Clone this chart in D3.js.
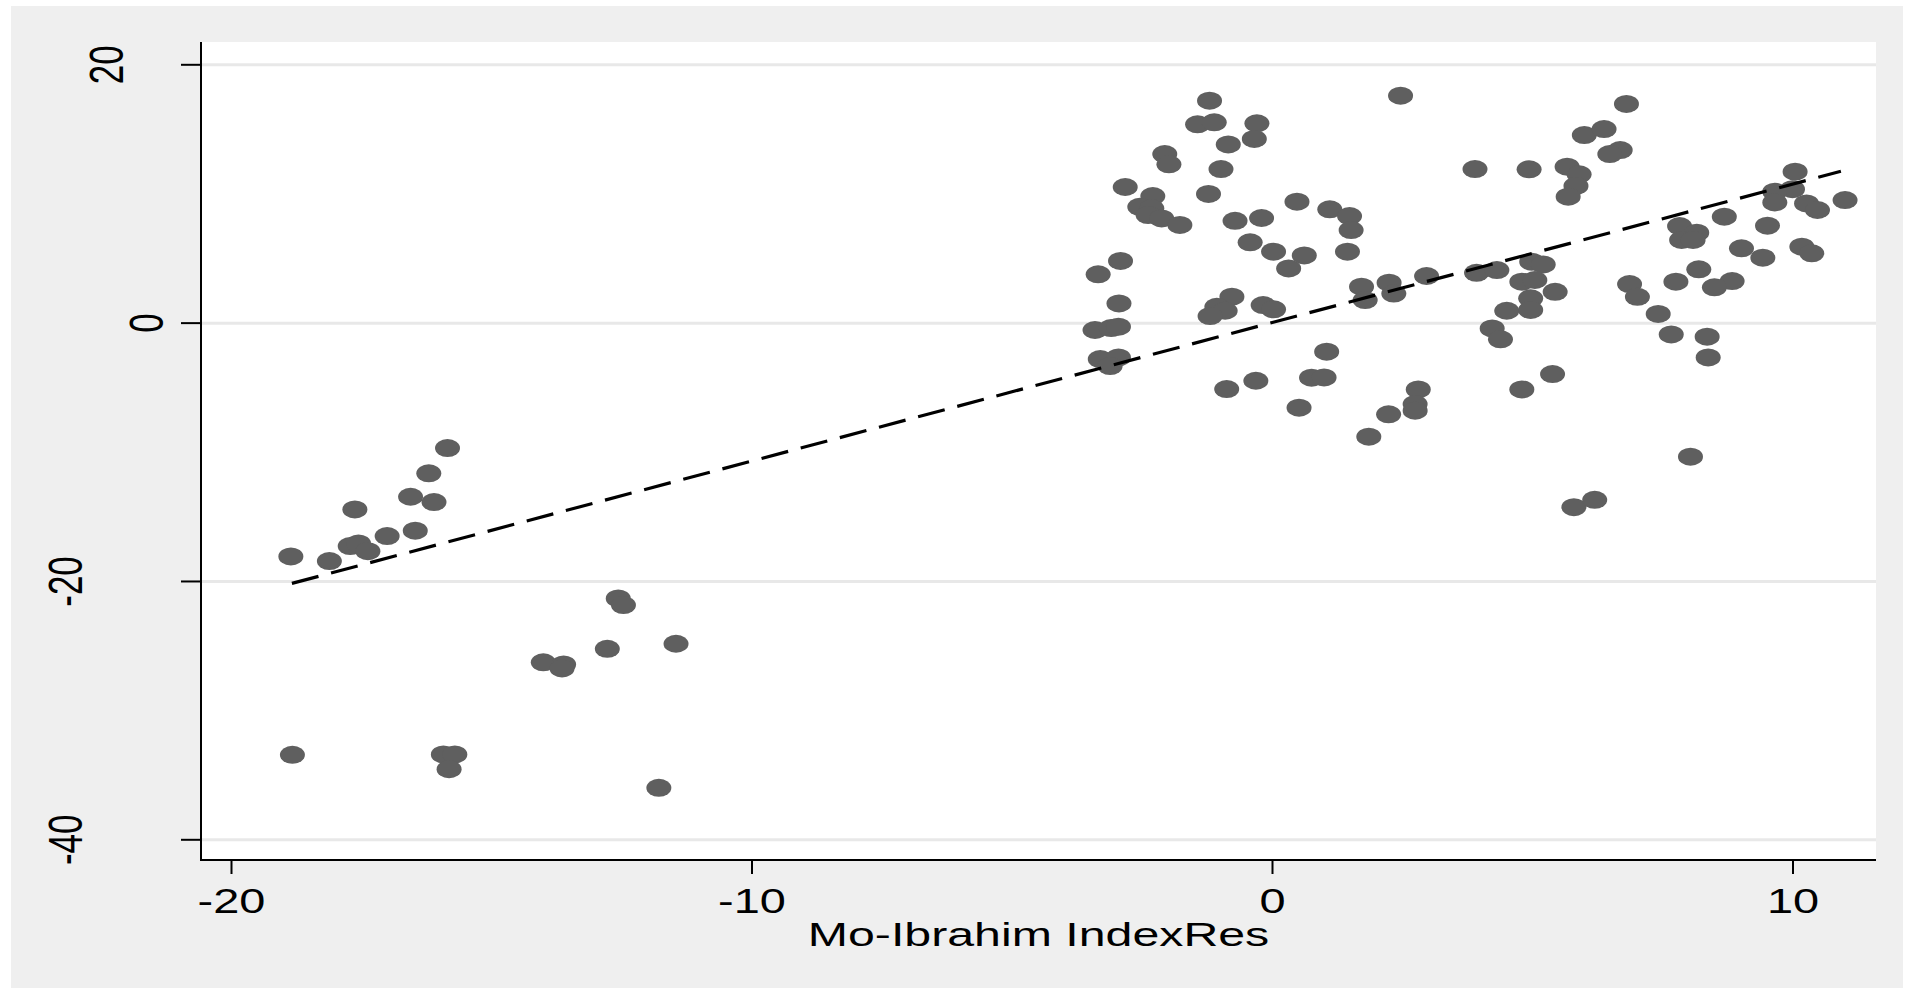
<!DOCTYPE html>
<html>
<head>
<meta charset="utf-8">
<script src="https://cdn.jsdelivr.net/npm/d3@7"></script>
<style>
  body { margin: 0; background: #fff; }
  svg { display: block; }
  text { font-family: "Liberation Sans", Arial, sans-serif; fill: #000; }
</style>
</head>
<body>
<svg id="chart" width="1916" height="989"></svg>
<script>
// residual of the Mo-Ibrahim index (x) vs residual of the outcome (y)
const moIbrahimRes = [
  -18.85, -18.11, -17.62, -17.71, -17.55, -17.37, -17.00, -16.55, -16.46, -16.20, -16.10, -15.84,
  -18.82, -15.92, -15.70, -15.81, -14.00, -13.61, -13.64, -12.77, -12.56, -12.46, -11.45, -11.78,
  -1.20, -1.43, -1.11, -0.29, -0.34, -0.84, -2.06, -1.98, -0.98, -2.82, -1.22, -2.29, -2.54, -2.31,
  -2.38, -2.12, -1.77, -0.71, -0.20, 0.48, -0.42, 0.03, 0.32, 0.62, -2.91, -3.34, -2.94, -3.40,
  -3.09, -2.95, -3.30, -2.95, -3.11, -0.77, -1.06, -0.90, -1.19, -0.17, 0.03, -0.87, -0.31, 0.52,
  2.47, 3.90, 1.11, 1.49, 1.52, 1.45, 1.72, 2.25, 1.79, 2.34, 2.97, 1.05, 0.76, 1.00, 2.81, 2.75,
  2.75, 2.24, 1.86,
  3.93, 4.32, 4.99, 5.21, 4.80, 5.05, 5.44, 4.97, 4.51, 4.97, 4.23, 4.39, 4.80, 5.39, 4.94, 5.67,
  5.90, 5.84, 5.69, 6.00, 6.38, 6.81, 6.69, 6.49, 10.05, 10.00, 9.66, 9.66, 10.27, 10.48, 11.01,
  8.69, 9.52, 7.83, 8.16, 7.87, 8.09, 9.02, 9.43, 10.18, 10.37, 8.20, 7.76, 8.84, 8.50, 6.87, 7.02,
  7.42, 7.67, 8.36, 8.38, 8.04, 5.80, 6.20
];
const outcomeRes = [
  -18.10, -18.46, -14.46, -17.30, -17.09, -17.69, -16.52, -13.48, -16.11, -11.67, -13.89, -9.71,
  -33.46, -33.43, -33.43, -34.57, -26.30, -26.46, -26.77, -25.25, -21.35, -21.87, -24.86, -36.01,
  17.18, 15.35, 15.51, 15.43, 14.22, 13.80, 13.05, 12.26, 11.89, 10.50, 9.96, 9.80, 8.97, 8.85,
  8.33, 8.07, 7.56, 7.88, 8.10, 9.36, 6.22, 5.49, 4.20, 5.20, 4.78, 3.74, 1.49, -0.57,
  -0.42, -0.31, -2.82, -2.69, -3.36, 2.01, 1.23, 0.92, 0.51, 1.36, 1.03, -5.14, -4.50, -6.58,
  17.57, 11.89, 8.77, 8.25, 7.17, 5.49, 2.78, 3.09, 1.75, 2.25, 3.61, -2.25, -4.26, -4.24, -5.17, -6.30,
  -6.82, -7.10, -8.83,
  3.86, 4.07, 4.72, 4.51, 3.17, 3.30, 2.39, 1.88, 0.92, 0.98, -0.45, -1.29, -5.17, -3.98, 11.87, 12.07,
  11.48, 10.58, 9.75, 14.52, 14.99, 16.93, 13.36, 13.05, 11.69, 10.33, 10.14, 9.31, 9.23, 8.72, 9.49,
  8.20, 7.51, 7.48, 6.96, 6.40, 6.40, 5.75, 5.03, 5.88, 5.37, 4.13, 3.17, 3.22, 2.73, 2.99, 2.00,
  0.67, -0.91, -1.09, -2.69, -10.38, -14.29, -13.72
];
// fitted line end points
const fitX = [-18.83, 10.93];
const fitY = [-20.19, 11.72];
const xTicks = [-20, -10, 0, 10];
const yTicks = [-40, -20, 0, 20];
const xTitle = "Mo-Ibrahim IndexRes";

const svg = d3.select("svg#chart");
const plot = { left: 201, right: 1876, top: 42, bottom: 860 };
const stretch = 1.38; // the picture is wider than tall, glyphs are stretched

// outer grey frame and white plot region
svg.append("rect")
  .attr("x", 11).attr("y", 6).attr("width", 1892).attr("height", 982)
  .style("fill", "#efefef");
svg.append("rect")
  .attr("x", plot.left).attr("y", plot.top)
  .attr("width", plot.right - plot.left).attr("height", plot.bottom - plot.top)
  .style("fill", "#fff");

const xScale = d3.scaleLinear().domain([-20, 10]).range([231, 1792.5]);
const yScale = d3.scaleLinear().domain([-40, 20]).range([839.3, 64.3]);

// grid lines
svg.append("g")
  .attr("class", "grid")
  .attr("transform", `translate(${plot.left}, 0)`)
  .call(d3.axisLeft(yScale).tickValues(yTicks).tickSize(-(plot.right - plot.left)).tickFormat(""))
  .call((g) => {
    g.select(".domain").remove();
    g.selectAll(".tick line").attr("stroke", "#e8e8e8").attr("stroke-width", 3);
  });

// points
const points = d3.zip(moIbrahimRes, outcomeRes);
svg.append("g")
  .selectAll("ellipse")
  .data(points)
  .join("ellipse")
  .attr("cx", (d) => xScale(d[0]))
  .attr("cy", (d) => yScale(d[1]))
  .attr("rx", 12.5)
  .attr("ry", 9)
  .style("fill", "#5f5f5f");

// fitted line
const line = d3.line().x((d) => xScale(d[0])).y((d) => yScale(d[1]));
svg.append("path")
  .datum(d3.zip(fitX, fitY))
  .attr("d", line)
  .attr("fill", "none")
  .attr("stroke", "#000")
  .attr("stroke-width", 3.2)
  .attr("stroke-dasharray", "27.5 13");

// y axis
svg.append("g")
  .attr("class", "y axis")
  .attr("transform", `translate(${plot.left}, 0)`)
  .call(d3.axisLeft(yScale).tickValues(yTicks).tickSize(20).tickFormat((d) => String(d)))
  .call((g) => {
    g.select(".domain").remove();
    g.selectAll(".tick line").attr("stroke", "#000").attr("stroke-width", 2);
    g.selectAll(".tick text")
      .attr("x", null)
      .attr("dy", null)
      .attr("text-anchor", "middle")
      .attr("font-size", 35)
      .attr("transform", (d) => {
        const len = String(d).length;
        const bx = -38 - 40.5 * (len - 1);
        return `translate(${bx}, 0) scale(${stretch}, 1) rotate(-90)`;
      });
  });

// x axis
svg.append("g")
  .attr("class", "x axis")
  .attr("transform", `translate(0, ${plot.bottom})`)
  .call(d3.axisBottom(xScale).tickValues(xTicks).tickSize(14).tickFormat((d) => String(d)))
  .call((g) => {
    g.select(".domain").remove();
    g.selectAll(".tick line").attr("stroke", "#000").attr("stroke-width", 2);
    g.selectAll(".tick text")
      .attr("y", 53)
      .attr("dy", null)
      .attr("font-size", 35)
      .attr("transform", `scale(1.34, 1)`);
  });

// axis lines
svg.append("line")
  .attr("x1", plot.left).attr("x2", plot.left)
  .attr("y1", plot.top).attr("y2", plot.bottom + 1)
  .attr("stroke", "#000").attr("stroke-width", 2);
svg.append("line")
  .attr("x1", plot.left - 1).attr("x2", plot.right)
  .attr("y1", plot.bottom).attr("y2", plot.bottom)
  .attr("stroke", "#000").attr("stroke-width", 2);

// x title
svg.append("text")
  .attr("transform", `translate(${(plot.left + plot.right) / 2}, 946) scale(1.42, 1)`)
  .attr("text-anchor", "middle")
  .attr("font-size", 34)
  .text(xTitle);
</script>
</body>
</html>
